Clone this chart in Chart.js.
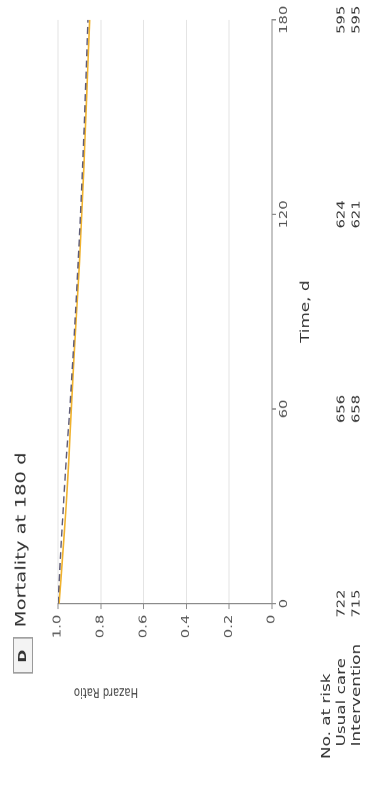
<!DOCTYPE html>
<html>
<head>
<meta charset="utf-8">
<script src="https://cdn.jsdelivr.net/npm/chart.js@4.4.1/dist/chart.umd.min.js"></script>
<style>
  html, body { margin: 0; padding: 0; background: #ffffff; overflow: hidden; }
  body { width: 366px; height: 787px; position: relative; }
  /* The figure is laid out landscape, then turned to read bottom-to-top */
  #panel {
    position: absolute; left: 0; top: 0;
    width: 562px; height: 366px;
    transform-origin: 0 0;
    transform: translate(0px, 787px) rotate(-90deg) scale(1.4, 1);
  }
  #panel canvas { display: block; }
</style>
</head>
<body>
<div id="panel"><canvas id="hr"></canvas></div>
<script>
// Follow-up time, days
const timeDays = [0, 15, 30, 45, 60, 75, 90, 105, 120, 135, 150, 165, 180];
// Hazard ratio curves
const usualCareHR    = [1.000, 0.988, 0.975, 0.961, 0.945, 0.931, 0.918, 0.906, 0.895, 0.885, 0.876, 0.868, 0.860];
const interventionHR = [0.995, 0.978, 0.962, 0.949, 0.938, 0.926, 0.913, 0.900, 0.889, 0.879, 0.870, 0.861, 0.852];
// Axis ticks
const timeTicks = [0, 60, 120, 180];
const hrTicks = [0, 0.2, 0.4, 0.6, 0.8, 1.0];
// Number at risk at each time tick
const riskUsualCare = [722, 656, 624, 595];
const riskIntervention = [715, 658, 621, 595];

const FONT = '"DejaVu Sans", Verdana, sans-serif';
const TEXT = '#444444';

const toPoints = (xs, ys) => xs.map((x, i) => ({ x: x, y: ys[i] }));

const panelText = {
  id: 'panelText',
  afterDraw(chart) {
    const ctx = chart.ctx;
    const xs = chart.scales.x;
    ctx.save();
    ctx.fillStyle = TEXT;
    ctx.textBaseline = 'middle';

    // panel letter box and heading
    ctx.fillStyle = '#f3f3f3';
    ctx.fillRect(81, 13, 25, 19);
    ctx.strokeStyle = '#9a9a9a';
    ctx.lineWidth = 1;
    ctx.strokeRect(81.5, 13.5, 25, 19);
    ctx.fillStyle = '#333333';
    ctx.font = 'bold 11px ' + FONT;
    ctx.textAlign = 'center';
    ctx.fillText('D', 93.5, 23);
    ctx.font = '14px ' + FONT;
    ctx.textAlign = 'left';
    ctx.fillText('Mortality at 180 d', 114, 22);

    // y-axis title
    ctx.save();
    ctx.translate(68, 106);
    ctx.rotate(-Math.PI / 2);
    ctx.textAlign = 'center';
    ctx.font = '10px ' + FONT;
    ctx.fillStyle = TEXT;
    ctx.fillText('Hazard Ratio', 0, 0);
    ctx.restore();

    // x-axis title
    ctx.font = '12px ' + FONT;
    ctx.textAlign = 'center';
    ctx.fillText('Time, d', (chart.chartArea.left + chart.chartArea.right) / 2, 306);

    // number-at-risk table
    ctx.font = '12px ' + FONT;
    ctx.textAlign = 'left';
    ctx.fillText('No. at risk', 20, 327);
    ctx.fillText('Usual care', 29, 342);
    ctx.fillText('Intervention', 29, 357);
    ctx.font = '10.5px ' + FONT;
    ctx.textAlign = 'center';
    timeTicks.forEach((t, i) => {
      const px = xs.getPixelForValue(t);
      ctx.fillText(String(riskUsualCare[i]), px, 342);
      ctx.fillText(String(riskIntervention[i]), px, 357);
    });
    ctx.restore();
  }
};

new Chart(document.getElementById('hr'), {
  type: 'line',
  data: {
    datasets: [
      {
        label: 'Usual care',
        data: toPoints(timeDays, usualCareHR),
        borderColor: '#5d5b78',
        borderWidth: 1.4,
        borderDash: [5, 3],
        pointRadius: 0,
        tension: 0.3,
        fill: false
      },
      {
        label: 'Intervention',
        data: toPoints(timeDays, interventionHR),
        borderColor: '#f0b22e',
        borderWidth: 1.6,
        pointRadius: 0,
        tension: 0.3,
        fill: false
      }
    ]
  },
  options: {
    responsive: true,
    maintainAspectRatio: false,
    animation: false,
    devicePixelRatio: 2,
    layout: { padding: { left: 0, top: 58, right: 14, bottom: 0 } },
    plugins: { legend: { display: false }, tooltip: { enabled: false } },
    scales: {
      x: {
        type: 'linear',
        min: 0,
        max: 180,
        afterBuildTicks: s => { s.ticks = timeTicks.map(v => ({ value: v })); },
        afterFit: s => { s.height = 94; },
        border: { color: '#8c8c8c', width: 1 },
        grid: { drawOnChartArea: false, drawTicks: true, tickLength: 4, tickColor: '#8c8c8c' },
        ticks: {
          padding: 2,
          maxRotation: 0,
          color: '#555555',
          font: { family: FONT, size: 10.5 },
          callback: v => String(v)
        }
      },
      y: {
        type: 'linear',
        min: 0,
        max: 1.0,
        afterBuildTicks: s => { s.ticks = hrTicks.map(v => ({ value: v })); },
        afterFit: s => { s.width = 131; },
        border: { color: '#8c8c8c', width: 1 },
        grid: {
          color: c => (c.tick && c.tick.value === 0) ? 'rgba(0,0,0,0)' : '#e4e4e4',
          lineWidth: 1,
          drawTicks: true,
          tickLength: 4,
          tickColor: '#8c8c8c'
        },
        ticks: {
          padding: 4,
          color: '#555555',
          font: { family: FONT, size: 10.5 },
          callback: v => (v === 0 ? '0' : v.toFixed(1))
        }
      }
    }
  },
  plugins: [panelText]
});
</script>
</body>
</html>
